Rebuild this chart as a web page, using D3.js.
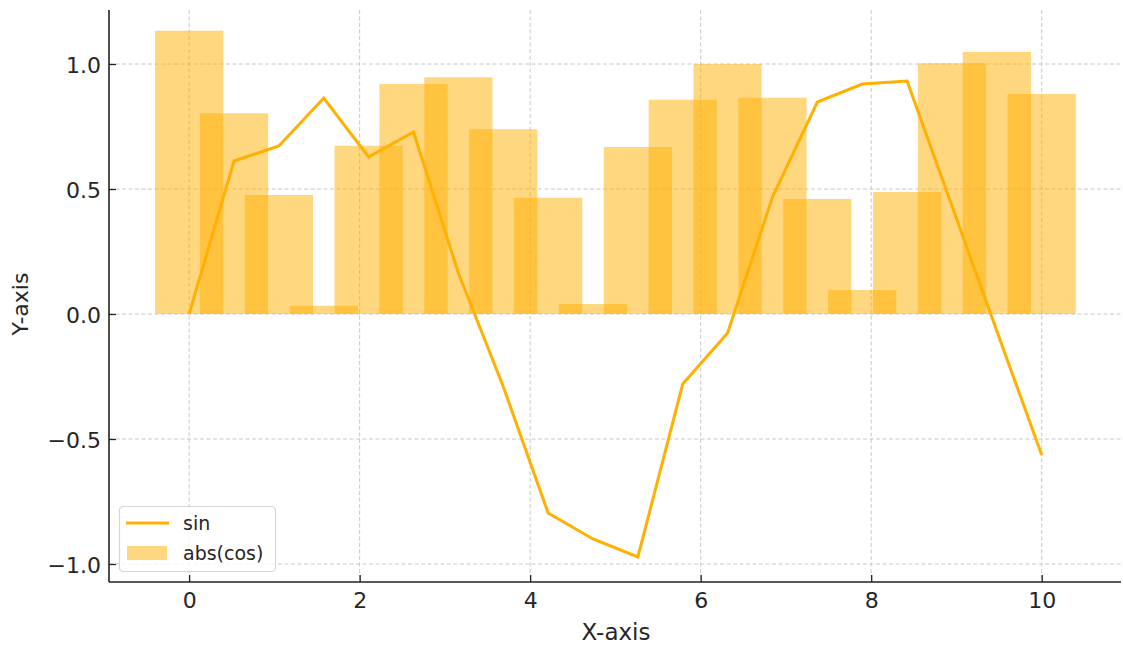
<!DOCTYPE html>
<html>
<head>
<meta charset="utf-8">
<script src="https://cdn.jsdelivr.net/npm/d3@7"></script>
<style>
  html, body { margin: 0; padding: 0; background: #fff; }
  svg { display: block; font-family: "DejaVu Sans", sans-serif; }
</style>
</head>
<body>
<svg id="chart" width="1123" height="648"></svg>
<script>
// ---- data ----
const xValues = [0, 0.5263, 1.0526, 1.5789, 2.1053, 2.6316, 3.1579, 3.6842, 4.2105, 4.7368,
                 5.2632, 5.7895, 6.3158, 6.8421, 7.3684, 7.8947, 8.4211, 8.9474, 9.4737, 10];
const sinValues = [0, 0.612, 0.672, 0.864, 0.628, 0.728, 0.164, -0.29, -0.796, -0.9,
                   -0.972, -0.28, -0.076, 0.468, 0.848, 0.92, 0.932, 0.432, -0.068, -0.564];
const barValues = [1.133, 0.803, 0.476, 0.033, 0.673, 0.92, 0.947, 0.739, 0.465, 0.04,
                   0.668, 0.857, 1.0, 0.865, 0.46, 0.096, 0.488, 1.003, 1.048, 0.88];
const xTicks = [0, 2, 4, 6, 8, 10];
const yTicks = [-1.0, -0.5, 0.0, 0.5, 1.0];
const seriesNames = ["sin", "abs(cos)"];
const barWidth = 0.8;

// ---- layout ----
const mLeft = 109, mRight = 1121, mTop = 10, mBottom = 582;
const color = "#FFB000";
const textColor = "#262626";

const svg = d3.select("#chart");
const x = d3.scaleLinear().domain([-0.94, 10.93]).range([mLeft, mRight]);
const y = d3.scaleLinear().domain([-1.072, 1.216]).range([mBottom, mTop]);

// grid
const grid = svg.append("g");
grid.selectAll("line.gx").data(xTicks).enter().append("line")
  .attr("x1", d => x(d)).attr("x2", d => x(d)).attr("y1", mTop).attr("y2", mBottom)
  .attr("stroke", "#c8c8c8").attr("stroke-width", 1).attr("stroke-dasharray", "4,2.5");
grid.selectAll("line.gy").data(yTicks).enter().append("line")
  .attr("x1", mLeft).attr("x2", mRight).attr("y1", d => y(d)).attr("y2", d => y(d))
  .attr("stroke", "#c8c8c8").attr("stroke-width", 1).attr("stroke-dasharray", "4,2.5");

// bars
svg.append("g").selectAll("rect").data(xValues).enter().append("rect")
  .attr("x", (d) => x(d - barWidth / 2))
  .attr("width", (d) => x(d + barWidth / 2) - x(d - barWidth / 2))
  .attr("y", (d, i) => y(barValues[i]))
  .attr("height", (d, i) => y(0) - y(barValues[i]))
  .attr("fill", color).attr("fill-opacity", 0.5);

// line
const line = d3.line().x((d, i) => x(xValues[i])).y(d => y(d));
svg.append("path").datum(sinValues)
  .attr("d", line).attr("fill", "none")
  .attr("stroke", color).attr("stroke-width", 3).attr("stroke-linejoin", "miter");

// axes
const xAxis = d3.axisBottom(x).tickValues(xTicks).tickFormat(d3.format("d"))
  .tickSizeInner(-7).tickSizeOuter(0).tickPadding(10.5);
const gx = svg.append("g").attr("transform", `translate(0,${mBottom})`).call(xAxis);
gx.select(".domain").attr("stroke", "#222").attr("stroke-width", 1.6)
  .attr("d", `M${mLeft},0H${mRight}`);
gx.selectAll(".tick line").attr("stroke", "#222").attr("stroke-width", 1.3);
gx.selectAll(".tick text").attr("fill", textColor).style("font-size", "22px")
  .style("font-family", "DejaVu Sans");

const fmtY = d => (d < 0 ? "\u2212" : "") + Math.abs(d).toFixed(1);
const yAxis = d3.axisLeft(y).tickValues(yTicks).tickFormat(fmtY)
  .tickSizeInner(-7).tickSizeOuter(0).tickPadding(8);
const gy = svg.append("g").attr("transform", `translate(${mLeft},0)`).call(yAxis);
gy.select(".domain").attr("stroke", "#222").attr("stroke-width", 1.6)
  .attr("d", `M0,${mTop}V${mBottom}`);
gy.selectAll(".tick line").attr("stroke", "#222").attr("stroke-width", 1.3);
gy.selectAll(".tick text").attr("fill", textColor).style("font-size", "22px")
  .style("font-family", "DejaVu Sans").attr("dy", "0.4em");

// axis labels
svg.append("text").attr("x", 616).attr("y", 640)
  .attr("text-anchor", "middle").attr("fill", textColor)
  .style("font-size", "23px").text("X-axis");
svg.append("text").attr("transform", `translate(28,304) rotate(-90)`)
  .attr("text-anchor", "middle").attr("fill", textColor)
  .style("font-size", "22px").text("Y-axis");

// legend
const lg = svg.append("g");
lg.append("rect").attr("x", 119.5).attr("y", 506.5).attr("width", 156).attr("height", 65)
  .attr("rx", 4).attr("fill", "#fff").attr("fill-opacity", 0.8)
  .attr("stroke", "#d6d6d6").attr("stroke-width", 1.2);
lg.append("line").attr("x1", 126).attr("x2", 169).attr("y1", 523).attr("y2", 523)
  .attr("stroke", color).attr("stroke-width", 3);
lg.append("rect").attr("x", 127).attr("y", 546).attr("width", 40).attr("height", 14)
  .attr("fill", color).attr("fill-opacity", 0.5);
lg.selectAll("text").data(seriesNames).enter().append("text")
  .attr("x", 183).attr("y", (d, i) => 530 + i * 30)
  .attr("fill", textColor).style("font-size", "19px").text(d => d);
</script>
</body>
</html>
